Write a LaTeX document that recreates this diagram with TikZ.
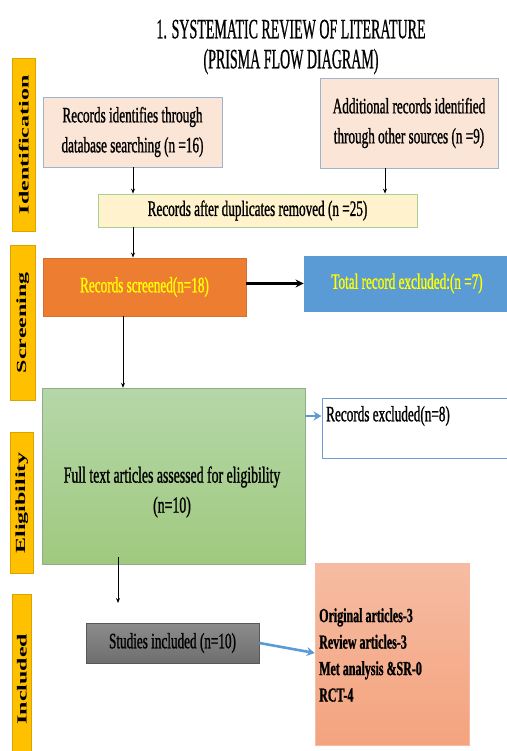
\documentclass[tikz,border=0pt]{standalone}
\usepackage{graphicx}
\usepackage{fontspec}
\setmainfont{Liberation Serif}
\newfontfamily\boxf[FakeStretch=0.6,FakeBold=1]{Liberation Serif}
\newfontfamily\titf[FakeStretch=0.5,FakeBold=0.6]{Liberation Serif}
\usetikzlibrary{arrows.meta,calc}
\definecolor{gold}{HTML}{FFC000}
\definecolor{pinkf}{HTML}{FBE5D6}
\definecolor{pinkd}{HTML}{9DB4CF}
\definecolor{yelf}{HTML}{FFF2CC}
\definecolor{yeld}{HTML}{A9D18E}
\definecolor{orng}{HTML}{ED7D31}
\definecolor{blu}{HTML}{5B9BD5}
\definecolor{ytext}{HTML}{FFFF00}
\definecolor{grtop}{HTML}{B5D7A8}
\definecolor{grbot}{HTML}{A0C97F}
\definecolor{exbd}{HTML}{6F9BD6}
\definecolor{gytop}{HTML}{8C8C8C}
\definecolor{gybot}{HTML}{6E6E6E}
\definecolor{satop}{HTML}{F6BCA3}
\definecolor{sabot}{HTML}{F4A37E}
\tikzset{
  bx/.style={draw, line width=0.8pt, inner sep=2pt, align=center,
    font=\boxf\fontsize{22}{30}\selectfont},
  sidebar/.style={fill=gold, draw=gold!85!black, line width=0.5pt, anchor=north west},
  sidelab/.style={rotate=90, inner sep=0pt},
  arr/.style={-{Stealth[length=5pt,width=4pt]}, line width=0.9pt, black},
  barr/.style={-{Stealth[length=8pt,width=9pt]}, line width=2.6pt, blu},
}
\begin{document}
\begin{tikzpicture}[x=1pt,y=-1pt]
\useasboundingbox (0,0) rectangle (506,751);
% title
\node[align=center, font=\titf\fontsize{28}{30}\selectfont] (title) at (291,47)
  {1. SYSTEMATIC REVIEW OF LITERATURE\\(PRISMA FLOW DIAGRAM)};
% side bars
\node[sidebar, minimum width=23pt, minimum height=173pt] (sb1) at (12,58) {};
\node[sidebar, minimum width=25pt, minimum height=155pt] (sb2) at (10,245) {};
\node[sidebar, minimum width=23pt, minimum height=141pt] (sb3) at (10,432) {};
\node[sidebar, minimum width=19pt, minimum height=170pt] (sb4) at (12,594) {};
\node[sidelab] (sl1) at (sb1.center) {\scalebox{1}[0.58]{\fontsize{24}{24}\selectfont\bfseries Identification}};
\node[sidelab] (sl2) at (sb2.center) {\scalebox{1}[0.58]{\fontsize{24}{24}\selectfont\bfseries Screening}};
\node[sidelab] (sl3) at (sb3.center) {\scalebox{1}[0.58]{\fontsize{24}{24}\selectfont\bfseries Eligibility}};
\node[sidelab] (sl4) at (22,679) {\scalebox{1}[0.58]{\fontsize{24}{24}\selectfont\bfseries Included}};
% identification
\node[bx, fill=pinkf, draw=pinkd, minimum width=179pt, minimum height=70pt] (db) at (132.5,132)
  {Records identifies through\\database searching (n =16)};
\node[bx, fill=pinkf, draw=pinkd, minimum width=178pt, minimum height=90pt] (oth) at (409,123)
  {Additional records identified\\through other sources (n =9)};
\node[bx, fill=yelf, draw=yeld, minimum width=319pt, minimum height=33pt] (dup) at (257.5,210.5)
  {Records after duplicates removed (n =25)};
% screening
\node[bx, fill=orng, draw=orng!90!black, text=ytext, minimum width=203pt, minimum height=58pt] (scr) at (144.5,287)
  {Records screened(n=18)};
\node[bx, fill=blu, draw=blu, text=ytext, minimum width=206pt, minimum height=55pt] (tot) at (407,283.5)
  {Total record excluded:(n =7)};
% eligibility
\node[draw=grtop!80!black, line width=0.4pt, top color=grtop, bottom color=grbot, minimum width=263pt, minimum height=176pt] (full) at (173.5,476) {};
\node[align=center, font=\boxf\fontsize{23}{30}\selectfont] (fulltxt) at (172,492)
  {Full text articles assessed for eligibility\\(n=10)};
\node[draw=exbd, line width=1pt, fill=white, minimum width=190pt, minimum height=60pt] (exc) at (417,428) {};
\node[anchor=west, inner sep=0pt, font=\boxf\fontsize{22}{30}\selectfont] (exctxt) at (326,416) {Records excluded(n=8)};
% included
\node[bx, draw=gybot!80!black, top color=gytop, bottom color=gybot, minimum width=173pt, minimum height=40pt] (stu) at (172.5,643)
  {Studies included (n=10)};
\node[draw=satop, line width=0.5pt, top color=satop, bottom color=sabot, minimum width=154pt, minimum height=182pt] (res) at (392,654) {};
\node[anchor=west, align=left, inner sep=0pt, font=\boxf\fontsize{20}{26.5}\selectfont\bfseries] (restxt) at (319,655)
  {Original articles-3\\Review articles-3\\Met analysis \&SR-0\\RCT-4};
% connectors
\coordinate (a1) at (133,0);
\coordinate (a2) at (385,0);
\coordinate (a3) at (123,0);
\coordinate (gs) at (118,603);
\draw[arr] (db.south -| a1) -- (dup.north -| a1);
\draw[arr] (oth.south -| a2) -- (dup.north -| a2);
\draw[arr] (dup.south -| a1) -- (scr.north -| a1);
\draw[arr] (scr.south -| a3) -- (full.north -| a3);
\draw[-{Stealth[length=8pt,width=8pt]}, line width=2.5pt] (scr.east |- tot.center) -- (tot.west);
\draw[barr] (full.east |- exctxt.center) -- (exc.west |- exctxt.center);
\draw[arr] (gs |- full.south) ++(0,-7) -- (gs);
\draw[barr] (stu.east) -- ($(res.west)+(0,-1)$);
\end{tikzpicture}
\end{document}
